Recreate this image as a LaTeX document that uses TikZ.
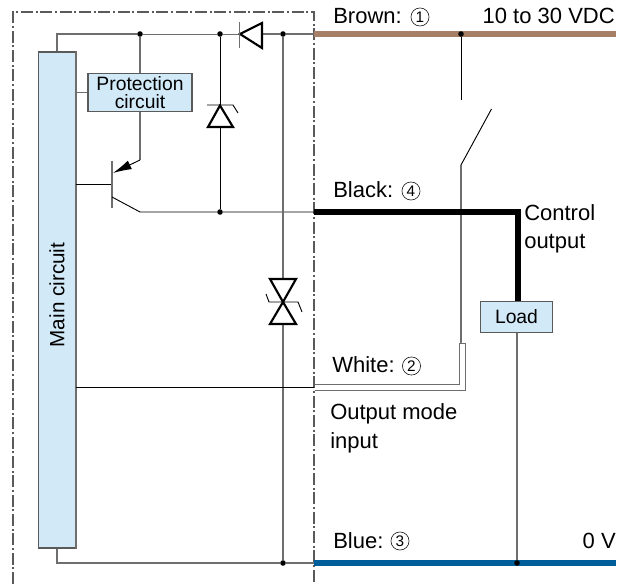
\documentclass[tikz,border=0pt]{standalone}
\usepackage{fontspec}
\usetikzlibrary{arrows.meta}
\setmainfont{Liberation Sans}
\definecolor{boxblue}{RGB}{210,233,248}
\definecolor{wirebrown}{RGB}{166,127,102}
\definecolor{wireblue}{RGB}{0,95,154}
\definecolor{wiregray}{RGB}{110,110,110}
\definecolor{framegray}{RGB}{90,90,90}
\tikzset{
	thinwire/.style={draw=black,line width=0.7pt},
	graywire/.style={draw=wiregray,line width=1.1pt},
	powerwire/.style={line width=4pt},
	diodeline/.style={draw=black,line width=1.6pt,line join=miter},
	dot/.style={circle,fill=black,inner sep=0pt,minimum size=4.2pt},
	bluebox/.style={draw=framegray,fill=boxblue,line width=0.8pt,inner sep=0pt,align=center},
	textlabel/.style={anchor=base west,inner sep=0pt,align=left,font=\fontsize{16.5}{19}\selectfont},
	circnum/.style={circle,draw=black,line width=0.4pt,inner sep=0pt,minimum size=13.6pt,font=\fontsize{11.5}{12}\selectfont},
}
\begin{document}
\begin{tikzpicture}[x=0.75pt,y=0.75pt,yscale=-1,xscale=1,font=\fontsize{14.5}{17}\selectfont]
	\useasboundingbox (0,0) rectangle (621,584);

	% housing outline
	\draw [framegray,line width=0.8pt,dash pattern=on 9pt off 2pt on 1.5pt off 2pt] (13,584) -- (13,12) -- (314,12) -- (314,584);

	% boxes
	\node [bluebox,minimum width=27.4pt,minimum height=372pt] (mainbox) at (57,300) {};
	\draw [graywire,line width=1.4pt] (mainbox.north east) -- (mainbox.south east);
	\node [rotate=90,inner sep=0pt,font=\fontsize{15.5}{17}\selectfont] (maintext) at (57,295) {Main circuit};
	\node [bluebox,minimum width=78pt,minimum height=28.5pt,font=\fontsize{14.5}{13.5}\selectfont] (protbox) at (140,92.5) {Protection\\circuit};
	\node [bluebox,minimum width=54.5pt,minimum height=23pt] (loadbox) at (516.5,317) {Load};

	% junctions
	\node [dot] (topa) at (140,34) {};
	\node [dot] (topb) at (220,34) {};
	\node [dot] (topc) at (283,34) {};
	\node [dot] (midb) at (220,212) {};
	\node [dot] (botc) at (283,563) {};
	\coordinate (lefttop) at (57,34);
	\coordinate (leftbot) at (57,563);
	\coordinate (brownin) at (314,34);
	\coordinate (brownout) at (616,34);
	\coordinate (blackin) at (314,212);
	\coordinate (blackcorner) at (518,212);
	\coordinate (bluein) at (314,563);
	\coordinate (blueout) at (616,563);
	\coordinate (whitein) at (314,387);
	\coordinate (baseend) at (112,184);
	\coordinate (emitter) at (113,173);
	\coordinate (emitterbend) at (140,160);
	\coordinate (collector) at (112,197);
	\coordinate (collectorbend) at (140,212);
	\coordinate (contacttop) at (461,100);
	\coordinate (contactpivot) at (461,165);
	\coordinate (contactend) at (491.5,109);
	\coordinate (whitetop) at (461,343);
	\coordinate (zenertop) at (220,105.5);
	\coordinate (zenerbot) at (220,127);
	\coordinate (diodeleft) at (240,34);
	\coordinate (dioderight) at (262,34);
	\coordinate (tvstop) at (283,279);
	\coordinate (tvsbot) at (283,324);

	% wires
	\draw [graywire] (mainbox.north -| lefttop) -- (lefttop) -- (topa);
	\draw [thinwire,draw=wiregray] (topa) -- (topb) -- (diodeleft);
	\draw [graywire] (dioderight) -- (topc) -- (brownin);
	\draw [graywire] (topa) -- (protbox.north);
	\draw [graywire] (protbox.south) -- (emitterbend);
	\draw [-{Latex[length=14pt,width=7pt]},thinwire] (emitterbend) -- (emitter);
	\draw [graywire,line width=0.8pt] (mainbox.east |- protbox.west) -- (protbox.west);
	\draw [thinwire] (mainbox.east |- baseend) -- (baseend);
	\draw [graywire] (112,161) -- (112,208);
	\draw [thinwire] (collector) -- (collectorbend) -- (midb) -- (blackin);
	\draw [thinwire] (topb) -- (zenertop);
	\draw [thinwire] (zenerbot) -- (midb);
	\draw [graywire] (topc) -- (tvstop);
	\draw [graywire] (tvsbot) -- (botc);
	\draw [thinwire] (mainbox.east |- whitein) -- (whitein);
	\draw [graywire] (mainbox.south -| leftbot) -- (leftbot) -- (botc) -- (bluein);

	% switch
	\draw [thinwire] (brownin -| contacttop) -- (contacttop);
	\draw [thinwire] (contactpivot) -- (contactend);
	\draw [graywire] (contactpivot) -- (whitetop);

	% diode
	\draw [diodeline] (diodeleft) -- (262,23) -- (262,48) -- cycle;
	\draw [graywire,line width=0.9pt] (239.5,22) -- (239.5,48);
	% zener
	\draw [diodeline] (zenertop) -- (233,127) -- (208,127) -- cycle;
	\draw [thinwire] (207,105) -- (233,105) -- (238,113);
	% bidirectional zener
	\draw [diodeline] (270,279) -- (296,279) -- (283,302) -- cycle;
	\draw [diodeline] (270,324) -- (296,324) -- (283,302) -- cycle;
	\draw [thinwire] (266,294) -- (269,302) -- (298,302) -- (302,312);

	% white wire
	\draw [draw=wiregray,fill=white,line width=0.7pt] (315,384.5) -- (459,384.5) -- (459,343) -- (465.5,343) -- (465.5,390.5) -- (315,390.5);

	% outer lines
	\draw [wirebrown,powerwire] (brownin) -- (brownout);
	\draw [black,powerwire,line join=miter] (blackin) -- (blackcorner) -- (loadbox.north -| blackcorner);
	\draw [wireblue,powerwire] (bluein) -- (blueout);
	\node [dot] (topd) at (461,34) {};
	\node [dot] (botd) at (517,563) {};
	\draw [graywire] (loadbox.south -| botd) -- (botd);

	% labels
	\node [textlabel] (brownlabel) at (333,24) {Brown:};
	\node [circnum] (brownnum) at (420,17) {1};
	\node [textlabel,anchor=base east] (voltlabel) at (615,24) {10 to 30 VDC};
	\node [textlabel] (blacklabel) at (333,198) {Black:};
	\node [circnum] (blacknum) at (411,191) {4};
	\node [textlabel] (controllabel) at (524,221) {Control};
	\node [textlabel] (outputlabel) at (524,249) {output};
	\node [textlabel] (whitelabel) at (332,373) {White:};
	\node [circnum] (whitenum) at (411.5,366) {2};
	\node [textlabel] (modelabel) at (330,420) {Output mode};
	\node [textlabel] (inputlabel) at (330,448) {input};
	\node [textlabel] (bluelabel) at (333,548) {Blue:};
	\node [circnum] (bluenum) at (400,541) {3};
	\node [textlabel,anchor=base east] (zerolabel) at (616,548) {0 V};
\end{tikzpicture}
\end{document}
